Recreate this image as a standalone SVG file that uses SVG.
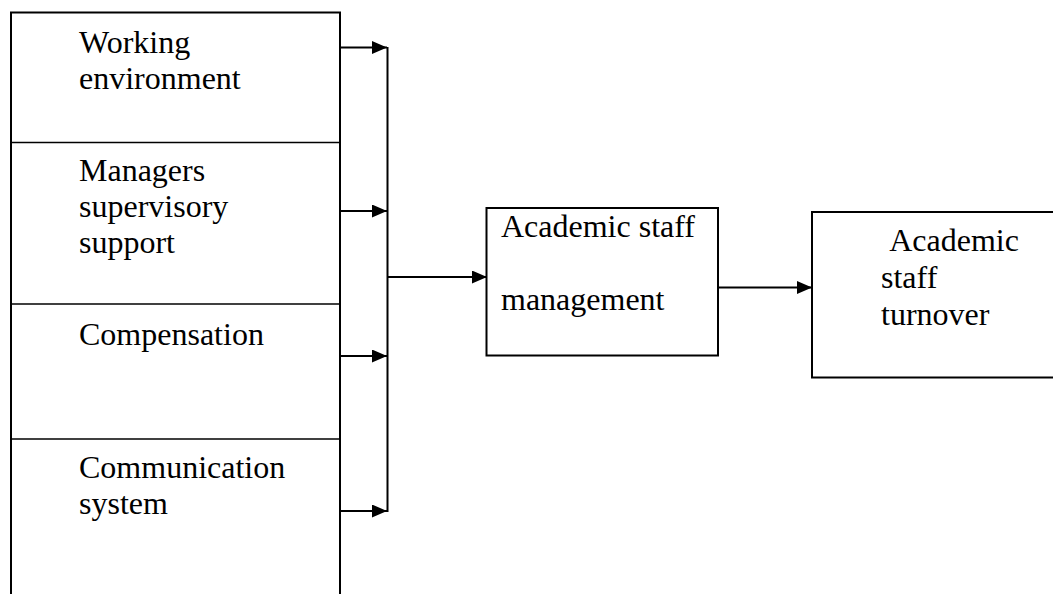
<svg xmlns="http://www.w3.org/2000/svg" width="1053" height="594" viewBox="0 0 1053 594">
<style>
.box{fill:none;stroke:#000;stroke-width:2}
.div{fill:none;stroke:#000;stroke-width:1.6}
.ln{fill:none;stroke:#000;stroke-width:2}
text{font-family:"Liberation Serif","Times New Roman",serif;font-size:32px;fill:#000}
</style>
<defs>
<marker id="ah" markerUnits="userSpaceOnUse" markerWidth="16" markerHeight="14" refX="15" refY="6.5" orient="auto">
<path d="M0,0 L15,6.5 L0,13 z" fill="#000"/>
</marker>
</defs>
<rect width="1053" height="594" fill="#fff"/>
<g id="factors">
<path class="box" d="M11,594 V12.5 H340 V594"/>
</g>
<g id="working-environment">
<text x="79" y="53">Working</text>
<text x="79" y="89">environment</text>
</g>
<g id="managers-support">
<line class="div" x1="11" y1="142.5" x2="340" y2="142.5"/>
<text x="79" y="181">Managers</text>
<text x="79" y="217">supervisory</text>
<text x="79" y="253">support</text>
</g>
<g id="compensation">
<line class="div" x1="11" y1="304" x2="340" y2="304"/>
<text x="79" y="345">Compensation</text>
</g>
<g id="communication-system">
<line class="div" x1="11" y1="439" x2="340" y2="439"/>
<text x="79" y="478">Communication</text>
<text x="79" y="514">system</text>
</g>
<g id="staff-management">
<rect class="box" x="486.5" y="208" width="231.5" height="147.5"/>
<text x="501" y="237">Academic staff</text>
<text x="501" y="310">management</text>
</g>
<g id="staff-turnover">
<path class="box" d="M1054,212 H812 V377.5 H1054"/>
<text x="883" y="251" xml:space="preserve"> Academic</text>
<text x="881" y="288">staff</text>
<text x="881" y="325">turnover</text>
</g>
<g id="connectors">
<line class="ln" x1="340" y1="47.5" x2="387" y2="47.5" marker-end="url(#ah)"/>
<line class="ln" x1="340" y1="211" x2="387" y2="211" marker-end="url(#ah)"/>
<line class="ln" x1="340" y1="356" x2="387" y2="356" marker-end="url(#ah)"/>
<line class="ln" x1="340" y1="511" x2="387" y2="511" marker-end="url(#ah)"/>
<line class="ln" x1="387.5" y1="47" x2="387.5" y2="512"/>
<line class="ln" x1="387.5" y1="277" x2="487" y2="277" marker-end="url(#ah)"/>
<line class="ln" x1="718" y1="287.5" x2="812" y2="287.5" marker-end="url(#ah)"/>
</g>
</svg>
